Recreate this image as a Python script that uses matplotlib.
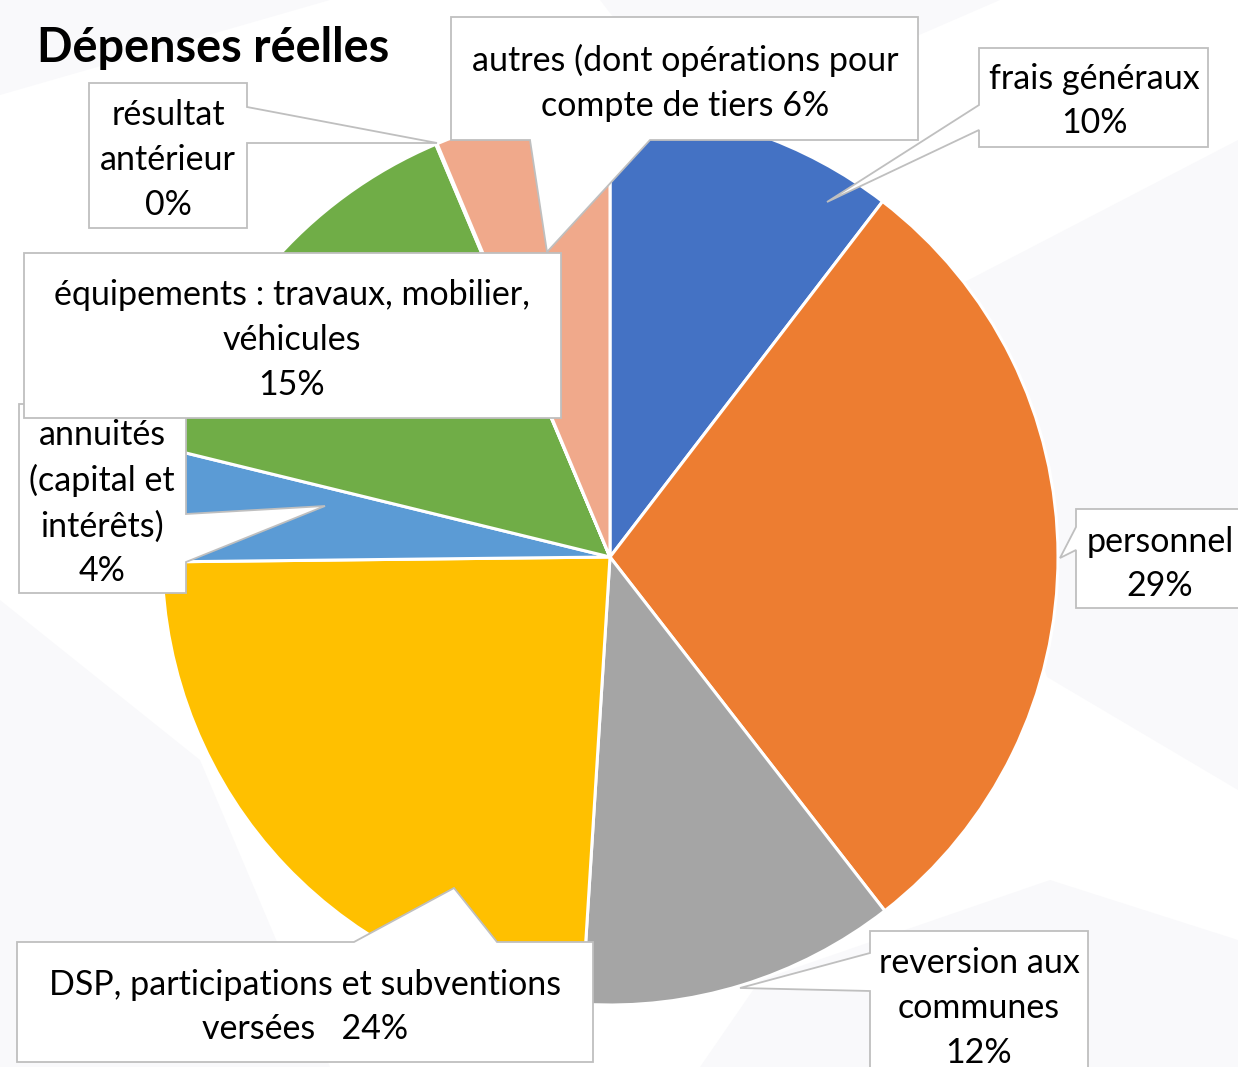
import matplotlib
matplotlib.use("Agg")
import matplotlib.pyplot as plt
from matplotlib.patches import Polygon

# ---------------- data ----------------
categories = [
    "frais généraux",
    "personnel",
    "reversion aux\ncommunes",
    "DSP, participations et subventions\nversées",
    "annuités\n(capital et\nintérêts)",
    "équipements : travaux, mobilier,\nvéhicules",
    "résultat\nantérieur",
    "autres (dont opérations pour\ncompte de tiers",
]
shares = [10.4, 29.05, 11.5, 23.8, 4.0, 14.8, 0.05, 6.3]
pct_labels = ["10%", "29%", "12%", "24%", "4%", "15%", "0%", "6%"]
title = "Dépenses réelles"

# ---------------- style / layout ----------------
colors = ["#4472C4", "#ED7D31", "#A5A5A5", "#FFC000",
          "#5B9BD5", "#70AD47", "#264478", "#F0A98B"]
separators = ["\n", "\n", "\n", "   ", "\n", "\n", "\n", " "]

W, H = 1238, 1067
FONT = ["Lato", "DejaVu Sans"]
LABEL_SIZE = 24.5
LINESP = 1.49
TEXT_DY = 3

# pixel layout (y measured downward from the top of the image)
callouts = [
    dict(box=(979, 48, 1208, 147), tail=("left", 105, 130, (827, 202)), txt=(1094, 98)),
    dict(box=(1076, 509, 1246, 608), tail=("left", 527, 550, (1060, 558)), txt=(1160, 561)),
    dict(box=(870, 931, 1088, 1085), tail=("left", 953, 991, (740, 988)), txt=(979, 1005)),
    dict(box=(17, 942, 593, 1062), tail=("top", 354, 497, (454, 888)), txt=(305, 1004)),
    dict(box=(19, 404, 186, 593), tail=("right", 514, 562, (325, 506)), txt=(102, 500)),
    dict(box=(24, 253, 561, 418), tail=None, txt=(292, 337)),
    dict(box=(89, 83, 247, 228), tail=("right", 107, 143, (437, 143)), txt=(168, 157)),
    dict(box=(451, 17, 918, 140), tail=("bottom", 530, 650, (547, 252)), txt=(685, 80)),
]
pie_center = (610, 557)
pie_radius = 448

# faint background rays of the slide
bg_shapes = [
    [(0, 0), (330, 0), (0, 95)],
    [(930, 300), (1238, 140), (1238, 790), (1047, 677)],
    [(700, 1067), (760, 980), (1050, 880), (1238, 940), (1238, 1067)],
    [(0, 600), (200, 760), (330, 1067), (0, 1067)],
    [(600, 0), (1000, 0), (700, 130)],
]


def P(x, y):
    return (x, H - y)


def callout_vertices(box, tail):
    x0, y0, x1, y1 = box
    TL, TR, BR, BL = (x0, y0), (x1, y0), (x1, y1), (x0, y1)
    pts = [TL]
    side = tail[0] if tail else None
    if side == "top":
        _, a, b, tip = tail
        pts += [(a, y0), tip, (b, y0)]
    pts.append(TR)
    if side == "right":
        _, a, b, tip = tail
        pts += [(x1, a), tip, (x1, b)]
    pts.append(BR)
    if side == "bottom":
        _, a, b, tip = tail
        pts += [(b, y1), tip, (a, y1)]
    pts.append(BL)
    if side == "left":
        _, a, b, tip = tail
        pts += [(x0, b), tip, (x0, a)]
    return [P(*p) for p in pts]


fig = plt.figure(figsize=(W / 100, H / 100), dpi=100)
fig.patch.set_facecolor("white")
ax = fig.add_axes([0, 0, 1, 1])

for shp in bg_shapes:
    ax.add_patch(Polygon([P(*p) for p in shp], closed=True, fc="#F9F9FB",
                         ec="none", zorder=0))

ax.pie(shares, colors=colors, startangle=90, counterclock=False,
       center=P(*pie_center), radius=pie_radius,
       wedgeprops=dict(edgecolor="white", linewidth=2.2), frame=True)

for i, c in enumerate(callouts):
    z = 5 + i
    poly = Polygon(callout_vertices(c["box"], c["tail"]), closed=True,
                   fc="white", ec="#BFBFBF", lw=1.3, joinstyle="miter", zorder=z)
    ax.add_patch(poly)
    text = categories[i] + separators[i] + pct_labels[i]
    tx, ty = c["txt"]
    ax.text(*P(tx, ty + TEXT_DY), text, ha="center", va="center",
            multialignment="center", fontsize=LABEL_SIZE, family=FONT,
            linespacing=LINESP, zorder=z + 0.5)

ax.text(*P(37, 48), title, ha="left", va="center", fontsize=33.7,
        fontweight="bold", family=FONT, zorder=20)

ax.set_xlim(0, W)
ax.set_ylim(0, H)
ax.set_aspect("equal")
ax.axis("off")

fig.savefig("out.png", dpi=100, facecolor="white")
